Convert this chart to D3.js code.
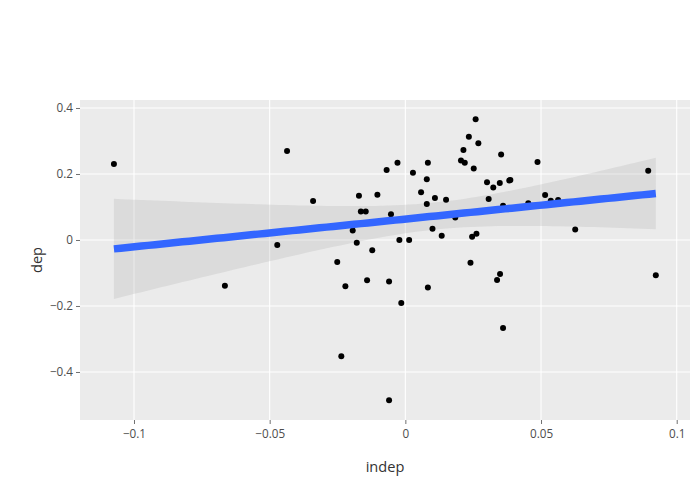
<!DOCTYPE html>
<html><head><meta charset="utf-8">
<script src="https://cdn.jsdelivr.net/npm/d3@7"></script>
<style>body{margin:0;background:#fff;} svg{display:block;font-family:"Open Sans",verdana,arial,sans-serif;}</style>
</head><body>
<svg id="c" width="700" height="500"></svg>
<script>
const indep = [-0.1074,-0.0436,-0.0472,-0.0665,-0.0340,-0.0171,-0.0164,-0.0146,-0.0103,-0.0069,
 -0.0029,-0.0053,-0.0194,-0.0179,-0.0122,-0.0022,0.0014,0.0028,0.0083,0.0079,
 0.0058,0.0079,0.0109,0.0150,0.0100,0.0134,0.0184,0.0259,0.0234,0.0269,
 0.0214,0.0205,0.0219,0.0252,0.0301,0.0324,0.0348,0.0383,0.0387,0.0307,
 0.0246,0.0262,0.0353,0.0487,0.0895,0.0515,0.0536,0.0563,0.0453,0.0360,
 0.0626,-0.0251,-0.0221,-0.0141,-0.0060,-0.0015,0.0083,0.0240,0.0338,0.0349,
 -0.0236,-0.0060,0.0360,0.0923];
const dep = [0.230,0.270,-0.015,-0.139,0.118,0.134,0.086,0.086,0.137,0.212,
 0.234,0.078,0.029,-0.008,-0.031,0.000,0.000,0.204,0.234,0.184,
 0.145,0.109,0.127,0.122,0.034,0.013,0.068,0.366,0.313,0.293,
 0.273,0.241,0.234,0.217,0.175,0.159,0.173,0.180,0.182,0.124,
 0.010,0.019,0.259,0.236,0.210,0.136,0.119,0.121,0.111,0.104,
 0.032,-0.067,-0.140,-0.122,-0.126,-0.191,-0.144,-0.069,-0.121,-0.103,
 -0.352,-0.486,-0.267,-0.107];
const xTicks = [-0.1,-0.05,0,0.05,0.1];
const xTickLabels = ["\u22120.1","\u22120.05","0","0.05","0.1"];
const yTicks = [-0.4,-0.2,0,0.2,0.4];
const yTickLabels = ["\u22120.4","\u22120.2","0","0.2","0.4"];

const L=80,R=690,T=100,B=420;
const x = d3.scaleLinear().domain([-0.1199,0.1049]).range([L,R]);
const y = d3.scaleLinear().domain([-0.5455,0.4242]).range([B,T]);
const svg = d3.select("#c");

svg.append("rect").attr("x",L).attr("y",T).attr("width",R-L).attr("height",B-T).attr("fill","#ebebeb");
svg.append("g").selectAll("line").data(xTicks).join("line")
  .attr("x1",d=>x(d)).attr("x2",d=>x(d)).attr("y1",T).attr("y2",B)
  .attr("stroke","#fff").attr("stroke-width",1.1);
svg.append("g").selectAll("line").data(yTicks).join("line")
  .attr("y1",d=>y(d)).attr("y2",d=>y(d)).attr("x1",L).attr("x2",R)
  .attr("stroke","#fff").attr("stroke-width",1.1);

// linear fit with 95% CI
const n = indep.length;
const mx = d3.mean(indep), my = d3.mean(dep);
let sxx=0,sxy=0;
for(let i=0;i<n;i++){sxx+=(indep[i]-mx)**2;sxy+=(indep[i]-mx)*(dep[i]-my);}
const b1=sxy/sxx, b0=my-b1*mx;
let sse=0; for(let i=0;i<n;i++){sse+=(dep[i]-b0-b1*indep[i])**2;}
const s=Math.sqrt(sse/(n-2));
const df=n-2, z=1.959964;
const tq = z + (z**3+z)/(4*df) + (5*z**5+16*z**3+3*z)/(96*df*df);
const xs = d3.range(80).map(i=>d3.min(indep)+(d3.max(indep)-d3.min(indep))*i/79);
const fit = xs.map(v=>{const f=b0+b1*v; const se=s*Math.sqrt(1/n+(v-mx)**2/sxx); return {x:v,f,lo:f-tq*se,hi:f+tq*se};});

svg.append("path").datum(fit)
  .attr("d",d3.area().x(d=>x(d.x)).y0(d=>y(d.lo)).y1(d=>y(d.hi)))
  .attr("fill","rgba(153,153,153,0.2)");

svg.append("g").selectAll("circle").data(indep).join("circle")
  .attr("cx",d=>x(d)).attr("cy",(d,i)=>y(dep[i])).attr("r",3).attr("fill","#000");

svg.append("path").datum(fit)
  .attr("d",d3.line().x(d=>x(d.x)).y(d=>y(d.f)))
  .attr("fill","none").attr("stroke","#3366ff").attr("stroke-width",7.5);

// axes
const xa = svg.append("g").attr("transform",`translate(0,${B})`)
  .call(d3.axisBottom(x).tickValues(xTicks).tickFormat((d,i)=>xTickLabels[i]).tickSize(4).tickPadding(3));
const ya = svg.append("g").attr("transform",`translate(${L},0)`)
  .call(d3.axisLeft(y).tickValues(yTicks).tickFormat((d,i)=>yTickLabels[i]).tickSize(4).tickPadding(3));
[xa,ya].forEach(a=>{a.select(".domain").remove();
  a.selectAll(".tick line").attr("stroke","#333").attr("stroke-opacity",0.7).attr("stroke-width",1);
  a.selectAll(".tick text").attr("fill","#4d4d4d").style("font-size","11.7px").style("font-family","'Open Sans',verdana,arial,sans-serif");});
xa.selectAll(".tick text").attr("dy","0.95em");

svg.append("text").attr("x",(L+R)/2).attr("y",472).attr("text-anchor","middle")
  .attr("fill","#333").style("font-size","14.6px").text("indep");
svg.append("text").attr("transform",`translate(42,${(T+B)/2}) rotate(-90)`).attr("text-anchor","middle")
  .attr("fill","#333").style("font-size","14.6px").text("dep");
</script>
</body></html>
